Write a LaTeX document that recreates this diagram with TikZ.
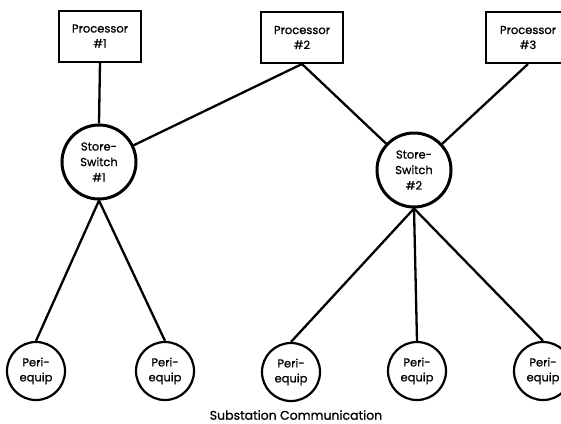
\documentclass[tikz,border=0pt]{standalone}
\usepackage{fontspec}
\setmainfont{Poppins}[FakeBold=0.8]
\begin{document}
\begin{tikzpicture}[x=1pt,y=-1pt,
  proc/.style={draw,line width=2pt,minimum width=82pt,minimum height=51pt,align=center,inner sep=0pt,font=\fontsize{11.5}{15}\selectfont},
  sw/.style={draw,circle,line width=3pt,minimum size=74pt,inner sep=0pt,align=center,font=\fontsize{11.5}{15.5}\selectfont},
  peri/.style={draw,circle,line width=2.2pt,minimum size=58pt,inner sep=0pt,align=center,font=\fontsize{11.5}{15}\selectfont},
  link/.style={line width=2.3pt}]
\useasboundingbox (0,0) rectangle (561,423);
\clip (0,0) rectangle (561,423);
\node[proc] (p1) at (100,36) {Processor\\\#1};
\node[proc] (p2) at (302,37.5) {Processor\\\#2};
\node[proc,minimum width=84pt] (p3) at (528,37.5) {Processor\\\#3};
\node[sw] (s1) at (99,162) {Store-\\Switch\\\#1};
\node[sw] (s2) at (414,170) {Store-\\Switch\\\#2};
\node[peri] (e1) at (36,371) {Peri-\\equip};
\node[peri] (e2) at (165,371) {Peri-\\equip};
\node[peri] (e3) at (291,372) {Peri-\\equip};
\node[peri] (e4) at (417,371) {Peri-\\equip};
\node[peri] (e5) at (543,371) {Peri-\\equip};
\node[font=\fontsize{12.5}{14}\selectfont] (cap) at (296,415) {Substation Communication};
\draw[link] (p1.south) -- (s1.north);
\draw[link] (p2.south) -- (s1);
\draw[link] (p2.south) -- (s2);
\draw[link] (p3.south) -- (s2);
\draw[link] (s1.south) -- (e1.north);
\draw[link] (s1.south) -- (e2.north);
\draw[link] (s2.south) -- (e3.north);
\draw[link] (s2.south) -- (e4.north);
\draw[link] (s2.south) -- (e5.north);
\end{tikzpicture}
\end{document}
